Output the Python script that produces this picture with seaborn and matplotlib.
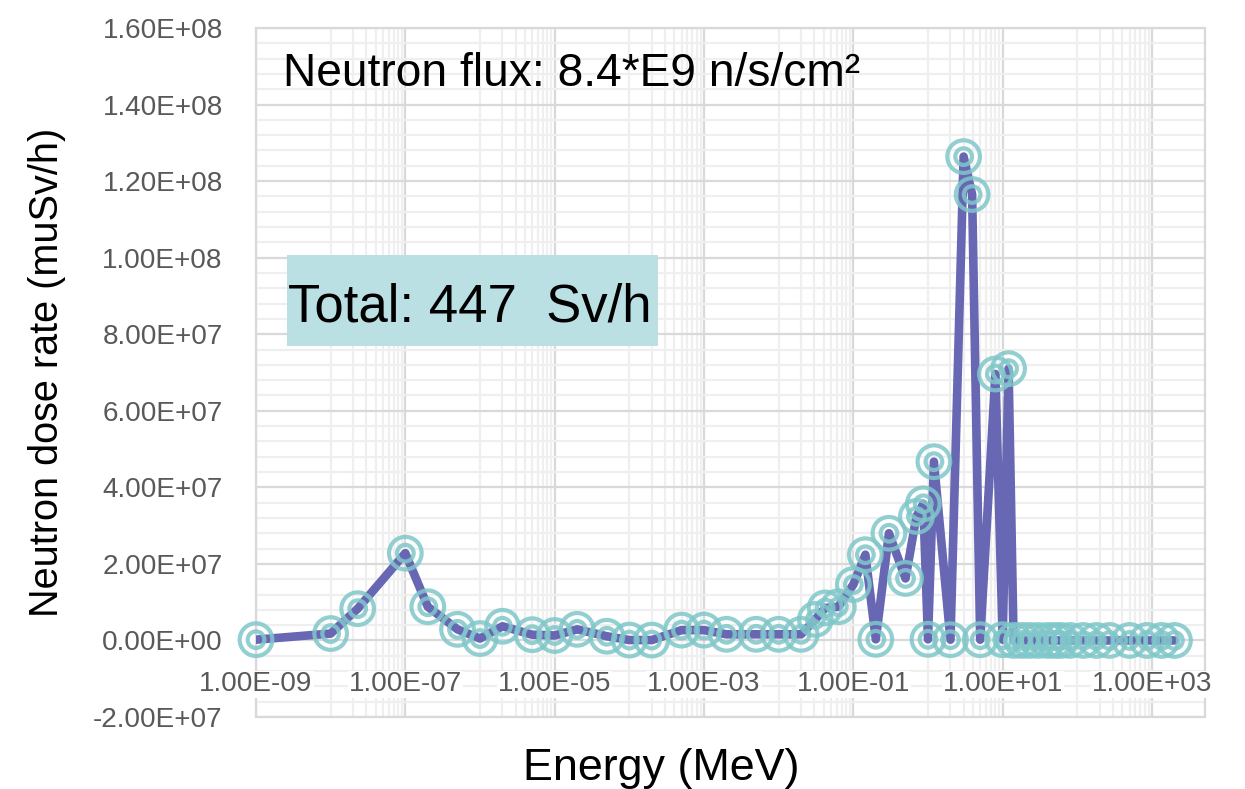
import numpy as np
import pandas as pd
import matplotlib
matplotlib.use("Agg")
import matplotlib.pyplot as plt
from matplotlib import font_manager as fm
from matplotlib.patches import Rectangle
from matplotlib.ticker import MultipleLocator, FixedLocator, NullFormatter
import seaborn as sns

# Neutron energy bins (MeV) and dose rate per bin (muSv/h)
energy_mev = [
    1e-9, 1e-8, 2.3e-8, 1e-7, 2e-7, 5e-7, 1e-6, 2e-6, 5e-6, 1e-5,
    2e-5, 5e-5, 1e-4, 2e-4, 5e-4, 1e-3, 2e-3, 5e-3, 1e-2, 2e-2,
    3.1e-2, 4.2e-2, 6.3e-2, 0.1, 0.145, 0.2, 0.3, 0.5, 0.7, 0.865,
    1.0, 1.2, 2.0, 3.0, 3.9, 5.0, 8.0, 10.0, 12.0, 14.0,
    18.0, 23.0, 30.0, 40.0, 50.0, 60.0, 80.0, 120.0, 180.0, 270.0,
    500.0, 860.0, 1350.0, 2000.0,
]
dose_rate = [
    2e5, 1.8e6, 8.3e6, 2.28e7, 8.8e6, 2.9e6, 5e5, 3.7e6, 1.5e6, 1.3e6,
    2.9e6, 1.1e6, 1e5, 1e5, 2.7e6, 2.7e6, 1.6e6, 1.6e6, 1.6e6, 1.6e6,
    5.5e6, 8.5e6, 8.8e6, 1.46e7, 2.24e7, 3e5, 2.8e7, 1.62e7, 3.24e7, 3.57e7,
    3e5, 4.67e7, 2e5, 1.264e8, 1.165e8, 2e5, 6.96e7, 2e5, 7.1e7, 0,
    0, 0, 0, 0, 0, 0, 0, 0, 0, 0,
    0, 0, 0, 0,
]

flux_text = "Neutron flux: 8.4*E9 n/s/cm\u00b2"
total_text = "Total: 447  Sv/h"
x_title = "Energy (MeV)"
y_title = "Neutron dose rate (muSv/h)"

x_major = [1e-9, 1e-7, 1e-5, 1e-3, 1e-1, 1e1, 1e3]
y_major = np.arange(-2e7, 1.6e8 + 1, 2e7)

df = pd.DataFrame({"energy": energy_mev, "dose": dose_rate})

sns.set_style("white")
names = {f.name for f in fm.fontManager.ttflist}
narrow = "Liberation Sans Narrow" if "Liberation Sans Narrow" in names else "Liberation Sans"
plt.rcParams["font.family"] = [narrow, "DejaVu Sans"]

W, H = 1245, 789
fig = plt.figure(figsize=(W / 100, H / 100), dpi=100)
left, right, top, bottom = 256, 1205, 28, 717
ax = fig.add_axes([left / W, 1 - bottom / H, (right - left) / W, (bottom - top) / H])

line_c = "#6767B3"
ring_c = "#80C7C9"
tick_c = "#595959"

sns.lineplot(data=df, x="energy", y="dose", ax=ax, color=line_c, lw=6.2,
             sort=False, estimator=None, solid_capstyle="round",
             solid_joinstyle="round", zorder=3)
for size in (23.5, 12):
    sns.scatterplot(data=df, x="energy", y="dose", ax=ax, s=size ** 2, color=ring_c,
                    facecolor="none", edgecolor=ring_c, linewidth=3.0, alpha=0.85,
                    zorder=4, clip_on=False)

ax.set_xscale("log")
ax.set_xlim(1e-9, 10 ** 3.71)
ax.set_ylim(-2e7, 1.6e8)

ax.set_xticks(x_major)
ax.xaxis.set_major_formatter(NullFormatter())
minor_x = [k * 10.0 ** e for e in range(-8, 3, 2) for k in range(1, 10)]
ax.xaxis.set_minor_locator(FixedLocator(minor_x))
ax.xaxis.set_minor_formatter(NullFormatter())
ax.set_yticks(y_major, labels=[f"{v:.2E}" for v in y_major])
ax.yaxis.set_minor_locator(MultipleLocator(4e6))

ax.grid(which="major", color="#D9D9D9", lw=1.6, zorder=0)
ax.grid(which="minor", color="#EFEFEF", lw=1.6, zorder=0)
ax.set_axisbelow(True)

for s in ax.spines.values():
    s.set_visible(False)
ax.add_patch(Rectangle((0, 0), 1, 1, transform=ax.transAxes, fill=False,
                       edgecolor="#D9D9D9", lw=1.6, clip_on=False, zorder=1))

ax.tick_params(axis="both", which="both", length=0, colors=tick_c,
               labelsize=20, labelbottom=False)
ax.tick_params(axis="y", pad=24)
ax.set_xlabel("")
ax.set_ylabel("")

# Energy labels sit just below the zero line, on a white ground
x_labels = []
for v in x_major:
    x_labels.append(ax.annotate(f"{v:.2E}", xy=(v, 0), xytext=(0, -44),
                                textcoords="offset pixels", ha="center", va="center",
                                color=tick_c, fontsize=20, zorder=6,
                                annotation_clip=False,
                                bbox=dict(facecolor="white", edgecolor="none", pad=0.5)))

def fx(px):
    return px / W

def fy(py):
    return 1 - py / H

t_flux = fig.text(fx(283), fy(86), flux_text, fontsize=34, color="black",
                  ha="left", va="baseline")
fig.patches.append(Rectangle((fx(287), fy(346)), fx(658) - fx(287), fy(255) - fy(346),
                             transform=fig.transFigure, facecolor="#BAE0E3",
                             edgecolor="none", zorder=2))
t_total = fig.text(fx(288), fy(321), total_text, fontsize=44, color="black",
                   ha="left", va="baseline", zorder=3)
t_x = fig.text(fx(661), fy(780), x_title, fontsize=32, color="black",
               ha="center", va="baseline")
t_y = fig.text(fx(47), fy(372), y_title, fontsize=32, color="black",
               ha="center", va="center", rotation=90)

# Scale each text so its extent matches the layout
fig.canvas.draw()
r = fig.canvas.get_renderer()

def fit(t, target, horizontal=True):
    bb = t.get_window_extent(renderer=r)
    cur = bb.width if horizontal else bb.height
    t.set_fontsize(t.get_fontsize() * target / cur)

fit(t_flux, 577)
fit(t_total, 364)
fit(t_x, 277)
fit(t_y, 490, horizontal=False)

lab = [t for t in ax.get_yticklabels() if t.get_text() == "1.60E+08"][0]
k = 120 / lab.get_window_extent(renderer=r).width
ax.tick_params(axis="y", labelsize=20 * k)
for t in x_labels:
    t.set_fontsize(20 * k)

fig.savefig("out.png", dpi=100)
